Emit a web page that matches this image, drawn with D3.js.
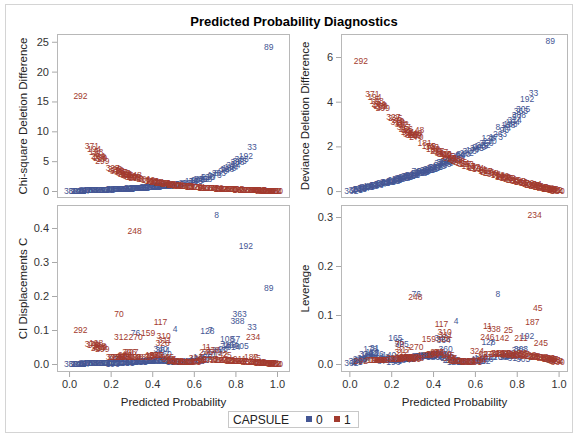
<!DOCTYPE html>
<html><head><meta charset="utf-8">
<script src="https://cdn.jsdelivr.net/npm/d3@7"></script>
<style>
body{margin:0;background:#fff}
text{font-family:"Liberation Sans",Arial,sans-serif}
</style>
</head><body>
<svg id="c" width="577" height="436"></svg>
<script>
// ---- CAPSULE = 0 (blue) ----
const ids0 = [362,301,215,98,316,178,31,146,52,203,
 12,140,165,35,325,196,83,244,76,281,
 134,290,163,229,101,340,364,179,360,4,
 255,120,66,282,177,200,232,128,7,8,
 173,188,108,57,74,164,363,388,192,33,
 89,314,305,40,149,210,263,96,20,125,
 61,227,189,110,287,331,44,272,357,18,
 206,137,95,351,223,
 2,14,23,39,47,58,63,79,87,94,104,113,121,130,143,152,160,171,183,195,
 205,212,221,235,247,258,266,279,289,296,309,320,333,345,356];
const prob0 = [0.01,0.03,0.05,0.06,0.08,0.10,0.12,0.13,0.14,0.16,
 0.17,0.19,0.22,0.24,0.25,0.21,0.23,0.26,0.32,0.28,
 0.30,0.33,0.35,0.37,0.39,0.44,0.45,0.43,0.46,0.51,
 0.48,0.50,0.53,0.56,0.59,0.62,0.64,0.665,0.68,0.71,
 0.70,0.77,0.76,0.80,0.75,0.78,0.82,0.81,0.85,0.88,
 0.96,0.79,0.83,0.60,0.63,0.67,0.72,0.74,0.42,0.40,
 0.04,0.07,0.09,0.11,0.15,0.18,0.20,0.27,0.29,0.31,
 0.34,0.36,0.38,0.41,0.47,
 0.02,0.035,0.045,0.065,0.085,0.095,0.115,0.125,0.155,0.175,0.185,0.205,0.215,0.235,0.255,0.265,0.285,0.295,0.305,0.325,
 0.345,0.355,0.375,0.385,0.405,0.415,0.435,0.455,0.465,0.49,0.52,0.545,0.575,0.61,0.655];
const chisq0 = [0.01,0.03,0.05,0.06,0.09,0.11,0.14,0.15,0.16,0.19,
 0.21,0.24,0.29,0.33,0.35,0.27,0.30,0.36,0.55,0.39,
 0.43,0.50,0.54,0.59,0.64,0.80,0.83,0.76,0.86,1.25,
 0.93,1.05,1.25,1.40,1.60,1.85,2.05,2.30,2.45,3.00,
 2.70,3.90,3.70,4.60,3.50,4.10,5.10,4.85,5.90,7.40,
 24.2,4.30,5.30,1.70,1.95,2.35,3.00,3.30,0.73,0.67,
 0.04,0.08,0.10,0.12,0.18,0.22,0.25,0.37,0.41,0.45,
 0.52,0.57,0.62,0.70,0.89,
 0.02,0.04,0.05,0.07,0.09,0.10,0.13,0.14,0.18,0.21,0.23,0.26,0.28,0.31,0.34,0.36,0.40,0.42,0.44,0.48,
 0.53,0.55,0.60,0.63,0.68,0.71,0.77,0.84,0.87,0.97,1.10,1.22,1.40,1.62,2.0];
const dev0 = [0.02,0.06,0.10,0.12,0.17,0.21,0.26,0.28,0.30,0.35,
 0.37,0.42,0.50,0.55,0.58,0.47,0.52,0.60,0.90,0.66,
 0.72,0.81,0.86,0.93,0.99,1.25,1.28,1.13,1.32,1.62,
 1.42,1.50,1.62,1.72,1.85,1.98,2.08,2.39,2.35,2.87,
 2.44,3.00,2.95,3.30,2.82,3.10,3.60,3.40,4.12,4.38,
 6.70,3.20,3.65,1.90,2.02,2.24,2.56,2.72,1.09,1.03,
 0.08,0.15,0.19,0.23,0.33,0.40,0.45,0.63,0.69,0.75,
 0.83,0.89,0.96,1.06,1.36,
 0.04,0.07,0.09,0.13,0.18,0.20,0.25,0.27,0.34,0.38,0.41,0.46,0.48,0.54,0.59,0.62,0.67,0.70,0.73,0.79,
 0.85,0.88,0.94,0.97,1.04,1.07,1.15,1.23,1.27,1.40,1.55,1.68,1.80,1.92,2.15];
const ci0 = [0.000,0.000,0.001,0.001,0.002,0.003,0.004,0.003,0.002,0.002,
 0.003,0.004,0.016,0.015,0.014,0.001,0.002,0.003,0.092,0.004,
 0.005,0.008,0.009,0.010,0.012,0.045,0.040,0.012,0.028,0.103,
 0.008,0.005,0.006,0.007,0.008,0.010,0.012,0.097,0.100,0.438,
 0.035,0.055,0.073,0.073,0.053,0.055,0.147,0.127,0.348,0.110,
 0.223,0.050,0.052,0.015,0.020,0.030,0.040,0.045,0.015,0.010,
 0.000,0.001,0.002,0.003,0.002,0.002,0.003,0.005,0.005,0.006,
 0.007,0.008,0.009,0.010,0.010,
 0.000,0.000,0.001,0.001,0.002,0.002,0.003,0.003,0.002,0.003,0.003,0.003,0.004,0.004,0.004,0.005,0.005,0.005,0.006,0.006,
 0.007,0.008,0.008,0.009,0.010,0.011,0.012,0.012,0.011,0.008,0.007,0.007,0.008,0.010,0.020];
const lev0 = [0.002,0.006,0.010,0.008,0.020,0.030,0.032,0.020,0.012,0.008,
 0.015,0.018,0.054,0.045,0.040,0.004,0.006,0.008,0.142,0.010,
 0.012,0.016,0.017,0.018,0.018,0.053,0.048,0.016,0.030,0.088,
 0.008,0.005,0.005,0.005,0.006,0.006,0.007,0.044,0.043,0.142,
 0.014,0.016,0.022,0.018,0.017,0.016,0.030,0.028,0.057,0.015,
 0.009,0.013,0.010,0.010,0.012,0.015,0.015,0.015,0.020,0.015,
 0.005,0.012,0.018,0.025,0.010,0.009,0.011,0.013,0.014,0.015,
 0.016,0.016,0.017,0.016,0.012,
 0.004,0.006,0.008,0.010,0.014,0.016,0.022,0.012,0.007,0.008,0.010,0.012,0.008,0.009,0.010,0.011,0.012,0.013,0.014,0.015,
 0.016,0.016,0.017,0.018,0.018,0.020,0.020,0.018,0.014,0.008,0.006,0.005,0.006,0.007,0.010];

// ---- CAPSULE = 1 (red) ----
const ids1 = [292,371,194,198,264,239,299,168,70,312,
 270,248,317,307,306,48,225,318,88,131,
 219,159,117,310,311,326,190,277,145,55,
 208,337,13,324,11,338,246,142,25,211,
 187,45,234,245,62,138,71,29,172,185,
 304,27,233,355,116,186,60,384,341,166,
 93,251,85,119,350,103,161,9,275,36,
 367,181,303,327,256,
 5,17,22,28,37,43,51,59,68,75,82,91,99,106,112,124,133,147,154,167,
 174,182,193,201,213,222,236,249,259,268,278,288,297,308,322,330,343,352];
const prob1 = [0.055,0.11,0.12,0.13,0.14,0.15,0.16,0.145,0.24,0.25,
 0.32,0.315,0.26,0.30,0.29,0.335,0.22,0.23,0.27,0.28,
 0.31,0.38,0.44,0.455,0.46,0.45,0.40,0.42,0.47,0.49,
 0.52,0.55,0.58,0.61,0.66,0.69,0.66,0.73,0.76,0.82,
 0.875,0.90,0.885,0.915,0.64,0.68,0.70,0.72,0.75,0.78,
 0.80,0.84,0.86,0.88,0.92,0.95,0.97,0.99,0.98,0.96,
 0.94,0.90,0.83,0.79,0.74,0.57,0.60,0.63,0.53,0.43,
 0.48,0.36,0.395,0.21,0.27,
 0.135,0.155,0.225,0.245,0.255,0.275,0.285,0.305,0.325,0.39,0.41,0.425,0.465,0.50,0.51,0.54,0.56,0.59,0.62,0.65,
 0.67,0.71,0.73,0.77,0.81,0.85,0.87,0.89,0.91,0.93,0.945,0.955,0.965,0.975,0.985,0.995,0.76,0.82];
const chisq1 = [15.9,7.6,7.0,6.5,5.9,5.5,5.1,5.7,3.45,3.2,
 2.2,2.6,3.0,2.4,2.5,2.05,3.6,3.4,2.8,2.6,
 2.3,1.85,1.4,1.3,1.27,1.3,1.6,1.45,1.15,1.05,
 0.93,0.83,0.73,0.68,0.55,0.48,0.53,0.40,0.34,0.24,
 0.16,0.13,0.18,0.10,0.58,0.49,0.45,0.40,0.35,0.29,
 0.26,0.20,0.17,0.14,0.09,0.06,0.03,0.01,0.02,0.04,
 0.07,0.11,0.21,0.27,0.36,0.76,0.67,0.59,0.89,1.35,
 1.1,1.95,1.65,3.8,2.9,
 6.2,5.3,3.5,3.3,3.1,2.7,2.6,2.35,2.15,1.75,1.55,1.47,1.2,1.02,0.97,0.87,0.80,0.71,0.63,0.56,
 0.51,0.43,0.39,0.32,0.25,0.19,0.16,0.13,0.10,0.08,0.06,0.05,0.04,0.03,0.02,0.01,0.33,0.23];
const dev1 = [5.8,4.33,4.2,4.05,3.9,3.8,3.7,3.85,3.14,3.0,
 2.4,2.6,2.85,2.5,2.55,2.73,3.25,3.1,2.75,2.65,
 2.5,2.03,1.75,1.68,1.65,1.68,1.9,1.80,1.58,1.48,
 1.35,1.22,1.12,1.05,0.88,0.78,0.86,0.68,0.60,0.42,
 0.29,0.23,0.30,0.19,0.92,0.80,0.74,0.68,0.60,0.51,
 0.46,0.36,0.31,0.26,0.17,0.11,0.06,0.02,0.04,0.08,
 0.13,0.21,0.38,0.48,0.61,1.14,1.03,0.93,1.28,1.72,
 1.5,2.15,1.95,3.3,2.78,
 4.0,3.75,3.2,3.05,2.95,2.7,2.6,2.5,2.45,2.0,1.85,1.78,1.6,1.42,1.38,1.26,1.19,1.08,0.98,0.90,
 0.83,0.71,0.65,0.55,0.44,0.34,0.29,0.24,0.19,0.15,0.12,0.10,0.07,0.05,0.03,0.01,0.57,0.41];
const ci1 = [0.100,0.060,0.055,0.062,0.048,0.050,0.045,0.052,0.146,0.080,
 0.078,0.391,0.020,0.036,0.035,0.022,0.022,0.021,0.022,0.021,
 0.020,0.090,0.1235,0.082,0.070,0.063,0.025,0.027,0.020,0.012,
 0.008,0.007,0.006,0.018,0.050,0.040,0.035,0.030,0.025,0.015,
 0.020,0.018,0.080,0.006,0.015,0.014,0.013,0.012,0.011,0.010,
 0.009,0.008,0.007,0.006,0.004,0.003,0.002,0.001,0.001,0.002,
 0.003,0.005,0.008,0.010,0.012,0.006,0.006,0.008,0.007,0.025,
 0.015,0.020,0.022,0.020,0.025,
 0.056,0.047,0.022,0.021,0.023,0.022,0.024,0.022,0.021,0.024,0.026,0.027,0.022,0.010,0.009,0.008,0.007,0.007,0.008,0.012,
 0.013,0.012,0.012,0.011,0.010,0.008,0.007,0.006,0.005,0.004,0.003,0.003,0.002,0.002,0.001,0.001,0.012,0.009];
const lev1 = [0.006,0.008,0.008,0.009,0.008,0.009,0.009,0.009,0.040,0.025,
 0.034,0.136,0.0285,0.015,0.015,0.012,0.010,0.010,0.012,0.012,
 0.010,0.050,0.0816,0.066,0.060,0.050,0.020,0.025,0.018,0.010,
 0.006,0.006,0.006,0.027,0.0776,0.0714,0.056,0.054,0.069,0.054,
 0.085,0.114,0.304,0.043,0.020,0.021,0.022,0.020,0.021,0.019,
 0.017,0.020,0.018,0.016,0.014,0.012,0.010,0.006,0.008,0.011,
 0.013,0.015,0.022,0.023,0.022,0.005,0.005,0.008,0.006,0.022,
 0.012,0.018,0.018,0.012,0.015,
 0.008,0.009,0.011,0.012,0.013,0.012,0.014,0.013,0.012,0.020,0.022,0.024,0.020,0.008,0.007,0.006,0.005,0.006,0.008,0.015,
 0.020,0.021,0.022,0.020,0.019,0.017,0.016,0.015,0.014,0.013,0.012,0.011,0.010,0.009,0.007,0.005,0.018,0.021];

const xTicks = [0.0,0.2,0.4,0.6,0.8,1.0];
const groupLabels = ["0","1"];
const colors = ["#445694","#A23A2E"];

const svg = d3.select("#c");
svg.append("rect").attr("x",5.5).attr("y",4.5).attr("width",567).attr("height",428)
  .attr("fill","none").attr("stroke","#d4d4d4");

svg.append("text").attr("x",294).attr("y",26).attr("text-anchor","middle")
  .attr("font-size",13).attr("font-weight","bold").attr("fill","#000")
  .text("Predicted Probability Diagnostics");

const panels = [
  {v0:chisq0, v1:chisq1, x0:57, x1:290, y0:34, y1:198, xd:[-0.058,1.0625], yd:[-1.17,26.3],
   ticks:[0,5,10,15,20,25], fmt:d3.format("d"), title:"Chi-square Deletion Difference", tx:23, xaxis:false},
  {v0:dev0, v1:dev1, x0:341, x1:568, y0:34, y1:198, xd:[-0.04,1.045], yd:[-0.31,7.03],
   ticks:[0,2,4,6], fmt:d3.format("d"), title:"Deviance Deletion Difference", tx:305, xaxis:false},
  {v0:ci0, v1:ci1, x0:57, x1:290, y0:205, y1:372, xd:[-0.058,1.0625], yd:[-0.0235,0.4676],
   ticks:[0,0.1,0.2,0.3,0.4], fmt:d3.format(".1f"), title:"CI Displacements C", tx:23, xaxis:true},
  {v0:lev0, v1:lev1, x0:341, x1:568, y0:205, y1:372, xd:[-0.04,1.045], yd:[-0.0163,0.3245],
   ticks:[0,0.1,0.2,0.3], fmt:d3.format(".1f"), title:"Leverage", tx:305, xaxis:true}
];

panels.forEach(P => {
  const x = d3.scaleLinear().domain(P.xd).range([P.x0,P.x1]);
  const y = d3.scaleLinear().domain(P.yd).range([P.y1,P.y0]);
  const g = svg.append("g");
  const ya = g.append("g").attr("transform",`translate(${P.x0},0)`)
    .call(d3.axisLeft(y).tickValues(P.ticks).tickFormat(P.fmt).tickSize(5).tickPadding(3));
  ya.select(".domain").remove();
  ya.selectAll("line").attr("stroke","#a8a8a8");
  ya.selectAll("text").attr("font-size",11).attr("fill","#333")
    .attr("font-family","'Liberation Sans',Arial,sans-serif");
  g.append("text").attr("transform",`translate(${P.tx},${(P.y0+P.y1)/2}) rotate(-90)`)
    .attr("text-anchor","middle").attr("dy","0.35em").attr("font-size",11.5).attr("fill","#222")
    .text(P.title);
  if (P.xaxis) {
    const xa = g.append("g").attr("transform",`translate(0,${P.y1})`)
      .call(d3.axisBottom(x).tickValues(xTicks).tickFormat(d3.format(".1f")).tickSize(5).tickPadding(3));
    xa.select(".domain").remove();
    xa.selectAll("line").attr("stroke","#a8a8a8");
    xa.selectAll("text").attr("font-size",11).attr("fill","#333")
      .attr("font-family","'Liberation Sans',Arial,sans-serif");
    g.append("text").attr("x",(P.x0+P.x1)/2).attr("y",406).attr("text-anchor","middle")
      .attr("font-size",11.5).attr("fill","#222").text("Predicted Probability");
  }
  const clipId = "clip" + P.x0 + "_" + P.y0;
  svg.append("clipPath").attr("id",clipId).append("rect")
    .attr("x",P.x0).attr("y",P.y0).attr("width",P.x1-P.x0).attr("height",P.y1-P.y0);
  const pts = g.append("g").attr("clip-path",`url(#${clipId})`);
  [[ids0,prob0,P.v0],[ids1,prob1,P.v1]].forEach((s,gi) => {
    pts.selectAll(null).data(s[0]).enter().append("text")
      .attr("x",(d,i)=>x(s[1][i])).attr("y",(d,i)=>y(s[2][i]))
      .attr("dy","0.35em").attr("text-anchor","middle")
      .attr("font-size",8.5).attr("fill",colors[gi]).text(d=>d);
  });
  g.append("rect").attr("x",P.x0+0.5).attr("y",P.y0+0.5)
    .attr("width",P.x1-P.x0-1).attr("height",P.y1-P.y0-1)
    .attr("fill","none").attr("stroke","#b8b8b8");
});

// legend
const lg = svg.append("g");
lg.append("rect").attr("x",228.5).attr("y",411.5).attr("width",130).attr("height",16)
  .attr("fill","none").attr("stroke","#c8c8c8");
lg.append("text").attr("x",233).attr("y",423.5).attr("font-size",12).attr("fill","#222").text("CAPSULE");
const lx = d3.scalePoint().domain(groupLabels).range([306,334]);
groupLabels.forEach((k,i)=>{
  lg.append("rect").attr("x",lx(k)).attr("y",416).attr("width",6).attr("height",6).attr("fill",colors[i]);
  lg.append("text").attr("x",lx(k)+10).attr("y",423.5).attr("font-size",12).attr("fill","#222").text(k);
});
</script>
</body></html>
